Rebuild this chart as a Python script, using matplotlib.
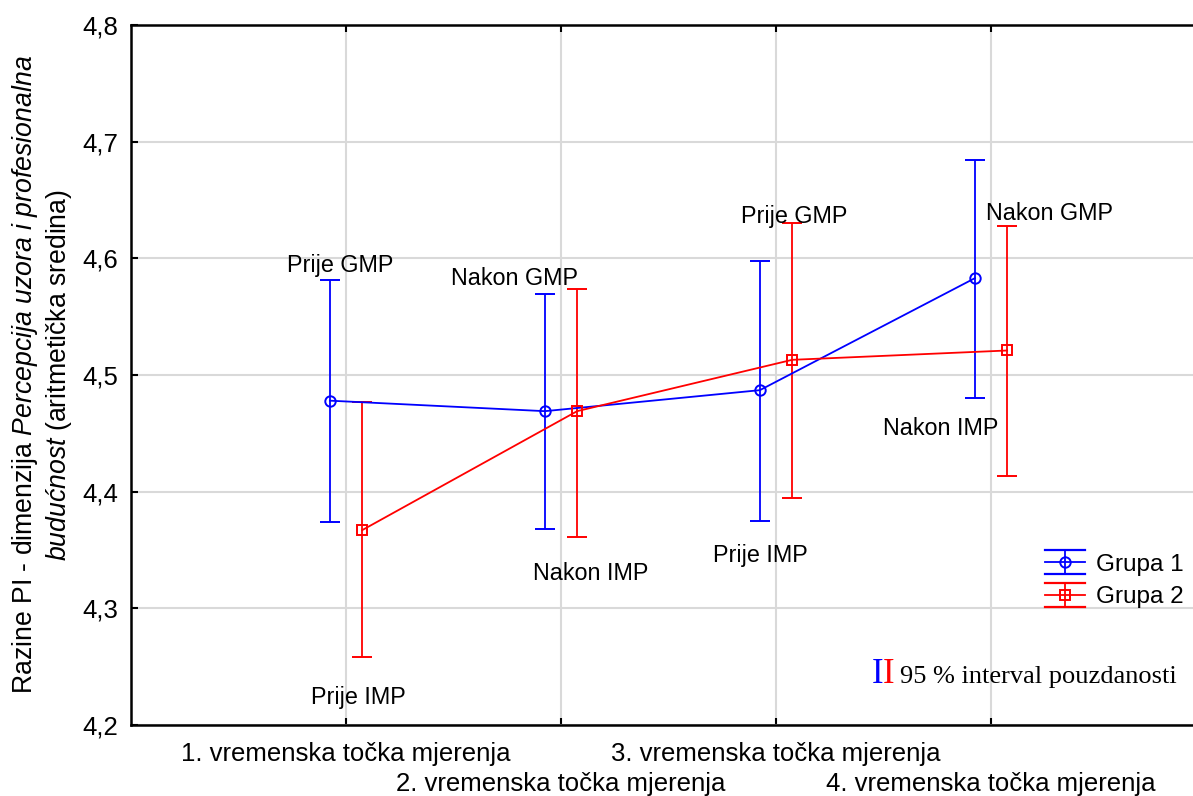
import matplotlib
matplotlib.use("Agg")
import matplotlib.pyplot as plt
from matplotlib.lines import Line2D
from matplotlib.legend_handler import HandlerBase
from matplotlib.ticker import FuncFormatter

# ---- data ----
categories = ["1. vremenska točka mjerenja", "2. vremenska točka mjerenja",
              "3. vremenska točka mjerenja", "4. vremenska točka mjerenja"]
grupa1_mean = [4.478, 4.469, 4.487, 4.583]
grupa1_low = [4.374, 4.368, 4.375, 4.480]
grupa1_high = [4.581, 4.569, 4.598, 4.684]
grupa2_mean = [4.367, 4.469, 4.513, 4.521]
grupa2_low = [4.258, 4.361, 4.395, 4.413]
grupa2_high = [4.477, 4.574, 4.630, 4.628]
series_names = ["Grupa 1", "Grupa 2"]
annotations = [
    ("Prije GMP", 0.972, 4.5886), ("Prije IMP", 1.056, 4.218),
    ("Nakon GMP", 1.786, 4.5771), ("Nakon IMP", 2.137, 4.3243),
    ("Prije GMP", 3.084, 4.630), ("Prije IMP", 2.926, 4.3397),
    ("Nakon GMP", 4.270, 4.6329), ("Nakon IMP", 3.765, 4.4486),
]
y_ticks = [4.2, 4.3, 4.4, 4.5, 4.6, 4.7, 4.8]

plt.rcParams['font.family'] = ['Liberation Sans', 'DejaVu Sans']
plt.rcParams['mathtext.fontset'] = 'custom'
plt.rcParams['mathtext.rm'] = 'Liberation Sans'
plt.rcParams['mathtext.it'] = 'Liberation Sans:italic'

FS_ANN = 16.8
FS_TICK = 18.5
FS_LAB = 19.2
W, H = 1193, 796
fig = plt.figure(figsize=(W / 100, H / 100), dpi=100)
ax = fig.add_axes([131 / W, 71 / H, 1075 / W, 700 / H])

x = list(range(1, len(categories) + 1))
off = 0.075
x1 = [v - off for v in x]
x2 = [v + off for v in x]

eb1 = ax.errorbar(x1, grupa1_mean,
                  yerr=[[m - l for m, l in zip(grupa1_mean, grupa1_low)],
                        [h - m for m, h in zip(grupa1_mean, grupa1_high)]],
                  color='#0000ff', marker='o', mfc='none', ms=7.5, mew=1.4,
                  lw=1.3, elinewidth=1.3, capsize=7.5, capthick=1.6, zorder=3)
eb2 = ax.errorbar(x2, grupa2_mean,
                  yerr=[[m - l for m, l in zip(grupa2_mean, grupa2_low)],
                        [h - m for m, h in zip(grupa2_mean, grupa2_high)]],
                  color='#ff0000', marker='s', mfc='none', ms=7.5, mew=1.4,
                  lw=1.3, elinewidth=1.3, capsize=7.5, capthick=1.6, zorder=3)

ax.set_xlim(0, 5)
ax.set_ylim(4.2, 4.8)
ax.set_yticks(y_ticks)
ax.yaxis.set_major_formatter(FuncFormatter(lambda v, p: f"{v:.1f}".replace('.', ',')))
# odd categories on the first row (major), even on the second row (minor)
ax.set_xticks(x[0::2])
ax.set_xticklabels(categories[0::2])
ax.set_xticks(x[1::2], minor=True)
ax.set_xticklabels(categories[1::2], minor=True)

ax.grid(True, axis='x', which='both', color='#d9d9d9', lw=1.5, zorder=0)
ax.grid(True, axis='y', which='major', color='#d9d9d9', lw=1.5, zorder=0)
ax.set_axisbelow(True)
for s in ax.spines.values():
    s.set_linewidth(1.8)
ax.tick_params(axis='both', which='both', direction='in', length=5, width=1.5,
               labelsize=FS_TICK)
ax.tick_params(axis='x', which='both', top=True)
ax.tick_params(axis='x', which='major', pad=12)
ax.tick_params(axis='x', which='minor', pad=34)
ax.tick_params(axis='y', pad=9)

ax.set_ylabel(r"Razine PI - dimenzija $\mathit{Percepcija\ uzora\ i\ profesionalna}$" + "\n"
              + r"$\mathit{budućnost}$ (aritmetička sredina)",
              fontsize=FS_LAB, linespacing=1.2)
ax.yaxis.set_label_coords(-0.053, 0.5)

for txt, tx, ty in annotations:
    ax.text(tx, ty, txt, ha='center', va='baseline', fontsize=FS_ANN, zorder=4)


class EBHandler(HandlerBase):
    def __init__(self, color, marker):
        super().__init__()
        self.color = color
        self.marker = marker

    def create_artists(self, legend, orig_handle, xdescent, ydescent, width,
                       height, fontsize, trans):
        cx = width / 2 - xdescent
        cy = height / 2 - ydescent
        d = 8.6
        x0, x1_ = -xdescent, width - xdescent
        arts = [
            Line2D([x0, x1_], [cy, cy], color=self.color, lw=1.3),
            Line2D([x0, x1_], [cy + d, cy + d], color=self.color, lw=1.6),
            Line2D([x0, x1_], [cy - d, cy - d], color=self.color, lw=1.6),
            Line2D([cx, cx], [cy - d, cy + d], color=self.color, lw=1.3),
            Line2D([cx], [cy], color=self.color, marker=self.marker, mfc='none',
                   ms=7.5, mew=1.4, lw=0),
        ]
        for a in arts:
            a.set_transform(trans)
        return arts


FS_LEG = 17.5
leg = fig.legend([eb1, eb2], series_names, loc='center left',
                 bbox_to_anchor=(1045 / W, 1 - 581 / H), frameon=False,
                 fontsize=FS_LEG, borderpad=0, borderaxespad=0, handlelength=1.65,
                 handletextpad=0.45, labelspacing=0.42,
                 handler_map={eb1: EBHandler('#0000ff', 'o'),
                              eb2: EBHandler('#ff0000', 's')})

fig.text(872 / W, 1 - 683 / H, "I", color='#0000ff', fontsize=25,
         family='Liberation Serif', ha='left', va='baseline')
fig.text(883 / W, 1 - 683 / H, "I", color='#ff0000', fontsize=25,
         family='Liberation Serif', ha='left', va='baseline')
fig.text(900 / W, 1 - 683 / H, "95 % interval pouzdanosti", color='black',
         fontsize=19, family='Liberation Serif', ha='left', va='baseline')

fig.savefig("out.png", dpi=100)
